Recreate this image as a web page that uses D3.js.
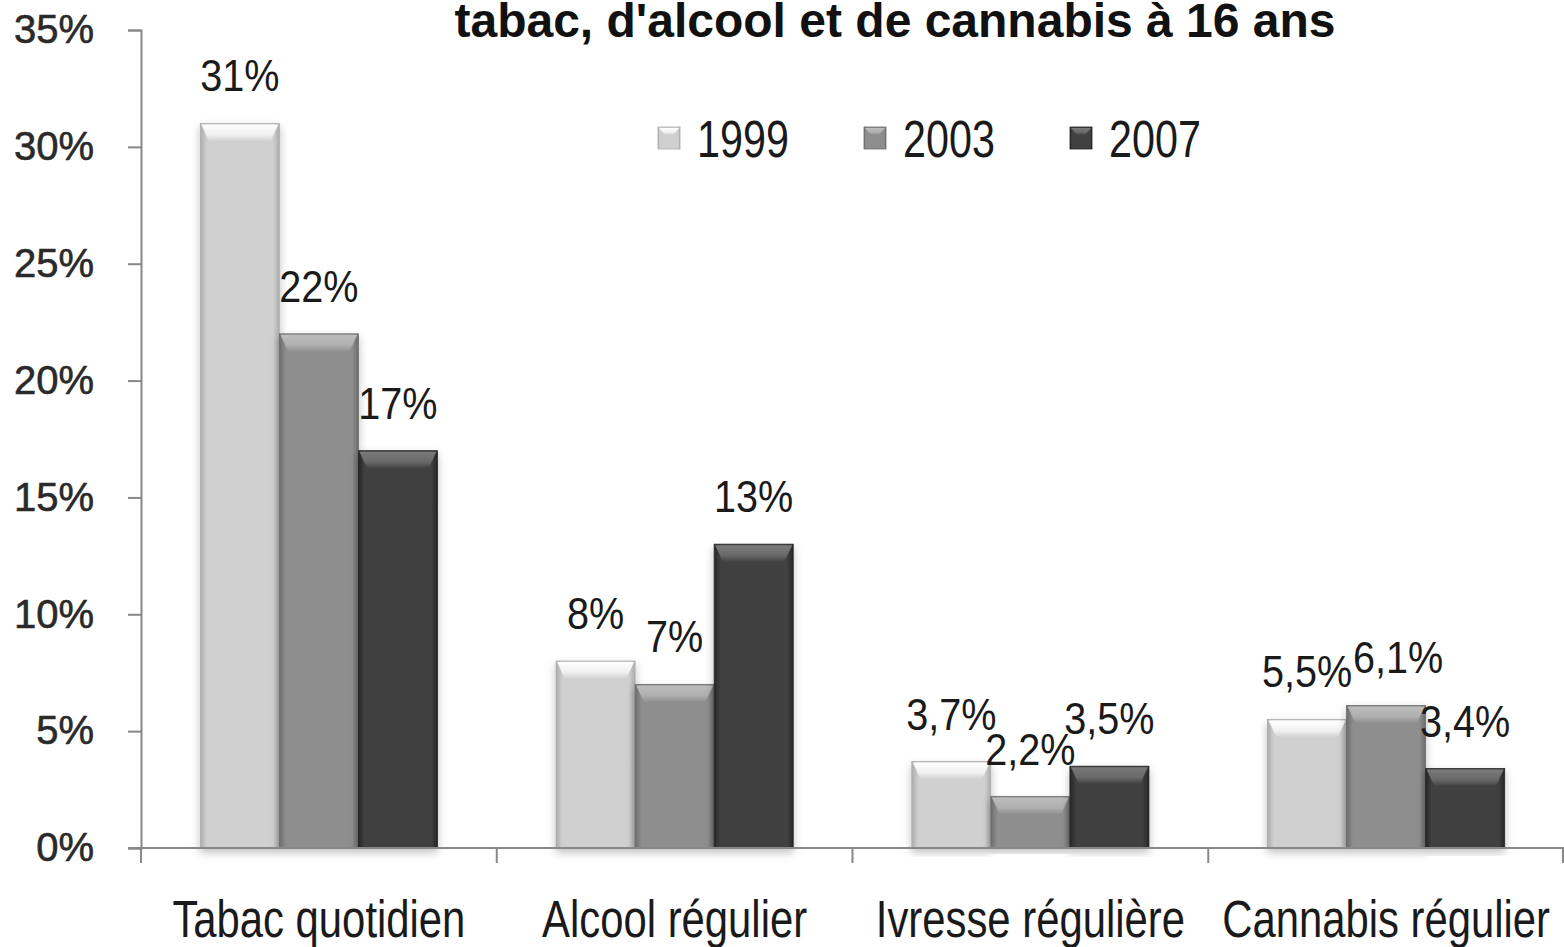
<!DOCTYPE html>
<html>
<head>
<meta charset="utf-8">
<script src="https://cdn.jsdelivr.net/npm/d3@7"></script>
<style>
  html, body { margin: 0; padding: 0; background: #fff; }
  svg text { font-family: "Liberation Sans", Arial, sans-serif; }
</style>
</head>
<body>
<div id="chart"></div>
<script>
const title = "tabac, d'alcool et de cannabis à 16 ans";
const categories = ["Tabac quotidien", "Alcool régulier", "Ivresse régulière", "Cannabis régulier"];
const years = ["1999", "2003", "2007"];
const values1999 = [31, 8, 3.7, 5.5];
const values2003 = [22, 7, 2.2, 6.1];
const values2007 = [17, 13, 3.5, 3.4];
const yTicks = [0, 5, 10, 15, 20, 25, 30, 35];

const seriesValues = [values1999, values2003, values2007];
const rows = categories.map((c, i) => ({
  cat: c,
  vals: years.map((y, j) => ({ cat: c, year: y, value: seriesValues[j][i] }))
}));

const W = 1564, H = 947;
const svg = d3.select('#chart').append('svg')
  .attr('width', W).attr('height', H);

const defs = svg.append('defs');

// squeeze text horizontally (the source uses a condensed face)
function narrow(sel, k) {
  sel.each(function () {
    const len = this.getComputedTextLength();
    d3.select(this).attr('textLength', len * k).attr('lengthAdjust', 'spacingAndGlyphs');
  });
}

// bar looks: side gradient + top bevel
const looks = {
  '1999': { edge: '#acacac', mid: '#d0d0d0', top: '#ffffff' },
  '2003': { edge: '#6c6c6c', mid: '#8e8e8e', top: '#bdbdbd' },
  '2007': { edge: '#262626', mid: '#414141', top: '#7a7a7a' }
};
years.forEach(y => {
  const g = defs.append('linearGradient').attr('id', 'side' + y)
    .attr('x1', '0%').attr('x2', '100%').attr('y1', '0%').attr('y2', '0%');
  g.append('stop').attr('offset', '0%').attr('stop-color', looks[y].edge);
  g.append('stop').attr('offset', '8%').attr('stop-color', looks[y].mid);
  g.append('stop').attr('offset', '92%').attr('stop-color', looks[y].mid);
  g.append('stop').attr('offset', '100%').attr('stop-color', looks[y].edge);

  const t = defs.append('linearGradient').attr('id', 'top' + y)
    .attr('x1', '0%').attr('x2', '0%').attr('y1', '0%').attr('y2', '100%');
  t.append('stop').attr('offset', '0%').attr('stop-color', looks[y].top).attr('stop-opacity', 1);
  t.append('stop').attr('offset', '60%').attr('stop-color', looks[y].top).attr('stop-opacity', 0.7);
  t.append('stop').attr('offset', '100%').attr('stop-color', looks[y].top).attr('stop-opacity', 0);
});

const shadow = defs.append('filter').attr('id', 'shadow')
  .attr('x', '-20%').attr('y', '-5%').attr('width', '140%').attr('height', '115%');
shadow.append('feDropShadow').attr('dx', 0).attr('dy', 4).attr('stdDeviation', 4)
  .attr('flood-color', '#000').attr('flood-opacity', 0.25);

// Scales
const y = d3.scaleLinear().domain([0, 35]).range([848, 30]);
const x0 = d3.scaleBand().domain(categories).range([141, 1564]).paddingInner(0).paddingOuter(0);
const x1 = d3.scaleBand().domain(years).range([0, x0.bandwidth()]).paddingInner(0).paddingOuter(0.75);

const locale = d3.formatLocale({ decimal: ',', thousands: ' ', grouping: [3], currency: ['', '€'] });
const fmt = v => (Number.isInteger(v) ? v : locale.format('.1f')(v)) + '%';

// Title (first line cropped off in the source)
svg.append('text')
  .attr('x', 895).attr('y', 37)
  .attr('text-anchor', 'middle')
  .attr('font-weight', 'bold')
  .attr('font-size', 48)
  .attr('fill', '#111')
  .text(title);

// Bars
const groups = svg.append('g').selectAll('g')
  .data(rows).join('g')
  .attr('transform', d => `translate(${x0(d.cat)},0)`);

const bar = groups.selectAll('g.bar')
  .data(d => d.vals).join('g').attr('class', 'bar');

bar.append('rect')
  .attr('x', d => x1(d.year))
  .attr('y', d => y(d.value))
  .attr('width', x1.bandwidth())
  .attr('height', d => y(0) - y(d.value))
  .attr('fill', d => `url(#side${d.year})`)
  .attr('stroke', d => looks[d.year].edge)
  .attr('stroke-width', 0.8)
  .attr('filter', 'url(#shadow)');

bar.append('path')
  .attr('d', d => {
    const x = x1(d.year), w = x1.bandwidth(), t = y(d.value);
    const h = Math.min(18, (y(0) - t) / 2);
    return `M${x + 1},${t + 1}H${x + w - 1}L${x + w - 9},${t + h}H${x + 9}Z`;
  })
  .attr('fill', d => `url(#top${d.year})`);

// Data labels (the 2003 cannabis label is pushed right, as in the source)
bar.append('text')
  .attr('class', 'dlabel')
  .attr('x', d => x1(d.year) + x1.bandwidth() / 2)
  .attr('y', d => y(d.value) - 32)
  .attr('dx', d => (d.cat === 'Cannabis régulier' && d.year === '2003') ? 12 : 0)
  .attr('text-anchor', 'middle')
  .attr('font-size', 45)
  .attr('fill', '#1a1a1a')
  .text(d => fmt(d.value));
narrow(svg.selectAll('.dlabel'), 0.88);

// Y axis
const yAxis = d3.axisLeft(y).tickValues(yTicks).tickSize(13).tickPadding(34)
  .tickFormat(d => d + '%');
const yg = svg.append('g').attr('transform', 'translate(141,0)').call(yAxis);
yg.select('.domain').attr('stroke', '#888').attr('stroke-width', 2);
yg.selectAll('.tick line').attr('stroke', '#888').attr('stroke-width', 2);
yg.selectAll('.tick text')
  .style('font-family', '"Liberation Sans", Arial, sans-serif')
  .attr('font-size', 40).attr('fill', '#2a2a2a')
  .attr('stroke', '#2a2a2a').attr('stroke-width', 0.6);

// X axis
const xAxis = d3.axisBottom(x0).tickSize(0).tickPadding(53);
const xg = svg.append('g').attr('transform', 'translate(0,848)').call(xAxis);
xg.select('.domain').remove();
xg.selectAll('.tick text')
  .style('font-family', '"Liberation Sans", Arial, sans-serif')
  .attr('font-size', 51).attr('fill', '#1a1a1a');
narrow(xg.selectAll('.tick text'), 0.82);
svg.append('line').attr('x1', 128).attr('x2', 1564).attr('y1', 848).attr('y2', 848)
  .attr('stroke', '#888').attr('stroke-width', 2);
svg.append('g').selectAll('line')
  .data(categories.concat(['end'])).join('line')
  .attr('x1', (d, i) => i < categories.length ? x0(d) : x0.range()[1] - 1)
  .attr('x2', (d, i) => i < categories.length ? x0(d) : x0.range()[1] - 1)
  .attr('y1', 848).attr('y2', 863)
  .attr('stroke', '#888').attr('stroke-width', 2);

// Legend
const legend = svg.append('g').selectAll('g')
  .data(years).join('g')
  .attr('transform', (d, i) => `translate(${658 + i * 206},127)`);
legend.append('rect').attr('width', 22).attr('height', 22)
  .attr('fill', d => `url(#side${d})`)
  .attr('stroke', d => looks[d].edge).attr('stroke-width', 0.8);
legend.append('path').attr('d', 'M1,1H21L15,8H7Z').attr('fill', d => `url(#top${d})`);
legend.append('text').attr('class', 'ltext').attr('x', 39).attr('y', 30)
  .attr('font-size', 51).attr('fill', '#1a1a1a')
  .text(d => d);
narrow(svg.selectAll('.ltext'), 0.81);
</script>
</body>
</html>
